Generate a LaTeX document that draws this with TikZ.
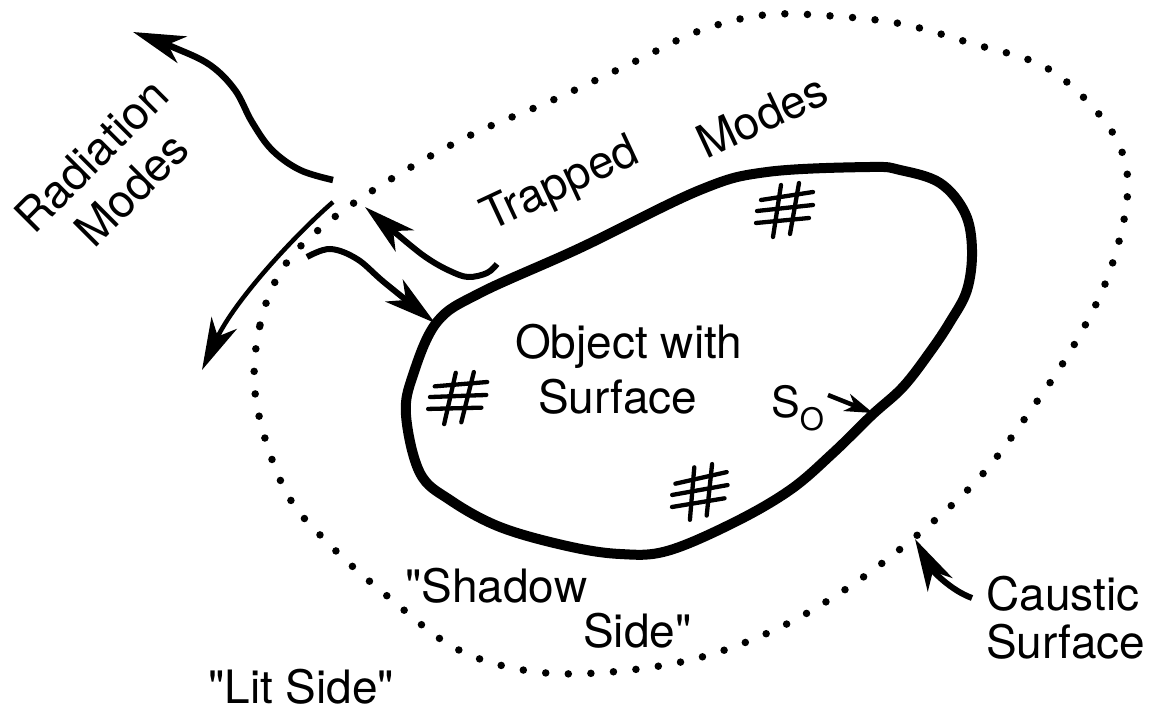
\documentclass[tikz,border=0pt]{standalone}
\usepackage{fontspec}
\setmainfont{TeX Gyre Heros}[Ligatures=TeXOff]
\usetikzlibrary{arrows.meta}
\begin{document}
\begin{tikzpicture}[x=1pt,y=-1pt,
  objline/.style={line width=10pt, line join=round},
  caustic/.style={line width=7.5pt, line cap=round, dash pattern=on 0pt off 22.6pt},
  modearrow/.style={line width=6pt, -{Stealth[length=52pt,width=28pt,inset=15pt]}},
  smallarrow/.style={line width=4.5pt, -{Stealth[length=28pt,width=18pt,inset=8pt]}},
  hashline/.style={line width=4.3pt, line cap=round},
  lbl/.style={font=\fontsize{46}{54}\selectfont, inner sep=0pt},
  hashmark/.pic={
    \draw[hashline] (-24,-10) -- (28,-18);
    \draw[hashline] (-28,1) -- (28,-5);
    \draw[hashline] (-29,13) -- (24,8);
    \draw[hashline] (-4,-25) -- (-12,27);
    \draw[hashline] (14,-27) -- (5,24);
  }
]
\useasboundingbox (0,0) rectangle (1155,711);

% caustic surface (dotted)
\draw[caustic] plot[smooth cycle, tension=0.6] coordinates {
  (256,400) (260,325) (285,265) (332,219) (401,173) (475,133) (553,100)
  (634,62) (699,31) (764,15) (832,16) (902,24) (970,43) (1045,67)
  (1098,113) (1124,158) (1126,208) (1107,279) (1074,345) (1033,407)
  (980,477) (915,537) (843,591) (770,632) (690,660) (597,673) (523,670)
  (455,648) (392,600) (330,545) (285,490)};

% object outline
\draw[objline] plot[smooth cycle, tension=0.6] coordinates {
  (870,167) (900,170) (940,183) (965,213) (972,250) (967,290) (950,322)
  (930,352) (903,387) (872,415) (833,453) (790,490) (733,523) (667,551)
  (620,554) (567,546) (500,527) (450,500) (420,473) (406,415) (413,375)
  (437,322) (480,293) (580,248) (700,190) (767,172)};

% surface patches
\pic at (785,210) {hashmark};
\pic[rotate=-4] at (458,398) {hashmark};
\pic[rotate=4] at (700,492) {hashmark};

% radiation modes
\coordinate (radUpTail) at (333,180);
\coordinate (radUpTip) at (133,32);
\draw[modearrow, line width=6.5pt] plot[smooth, tension=0.6] coordinates {
  (radUpTail) (300,170) (272,150) (252,122) (235,90) (210,65) (175,48) (radUpTip)};
\coordinate (radLoTail) at (333,202);
\coordinate (radLoTip) at (202,370);
\draw[modearrow, line width=4.5pt] (radLoTail) .. controls (295,235) and (235,300) .. (radLoTip);

% trapped mode leaving the surface
\coordinate (trapTail) at (497,264);
\coordinate (trapTip) at (365,207);
\draw[modearrow] plot[smooth, tension=0.6] coordinates {
  (trapTail) (487,273) (468,277) (450,271) (430,260) (410,245) (trapTip)};

% incoming mode reaching the surface
\coordinate (inTail) at (307,257);
\coordinate (inTip) at (435,323);
\draw[modearrow] plot[smooth, tension=0.6] coordinates {
  (inTail) (330,249) (357,259) (385,283) (inTip)};

% labels
\node[lbl, anchor=base, rotate=45] (radLbl) at (103,167) {Radiation};
\node[lbl, anchor=base, rotate=45] (radModes) at (143,201) {Modes};
\node[lbl, anchor=base west, rotate=25] (trapLbl) at (490,232) {Trapped};
\node[lbl, anchor=base west, rotate=25] (trapModes) at (706,160) {Modes};
\node[lbl, anchor=base west] (objA) at (515,358) {Object with};
\node[lbl, anchor=base west] (objB) at (538,413) {Surface};
\node[lbl, anchor=base west] (szero) at (771,417)
  {\fontsize{43}{43}\selectfont S\raisebox{-13pt}{\fontsize{31}{31}\selectfont O}};
\node[lbl, anchor=base west] (shadowA) at (405,602) {"Shadow};
\node[lbl, anchor=base west] (shadowB) at (583,647) {Side"};
\node[lbl, anchor=base west] (lit) at (208,703) {"Lit Side"};
\node[lbl, anchor=base west] (causA) at (986,610) {Caustic};
\node[lbl, anchor=base west] (causB) at (986,658) {Surface};

% pointers to the surface and the caustic
\coordinate (sTip) at (873,413);
\draw[smallarrow] (828,395) -- (sTip);
\coordinate (cTail) at (972,598);
\coordinate (cTip) at (915,539);
\draw[modearrow] (cTail) .. controls (950,590) and (932,570) .. (cTip);
\end{tikzpicture}
\end{document}
